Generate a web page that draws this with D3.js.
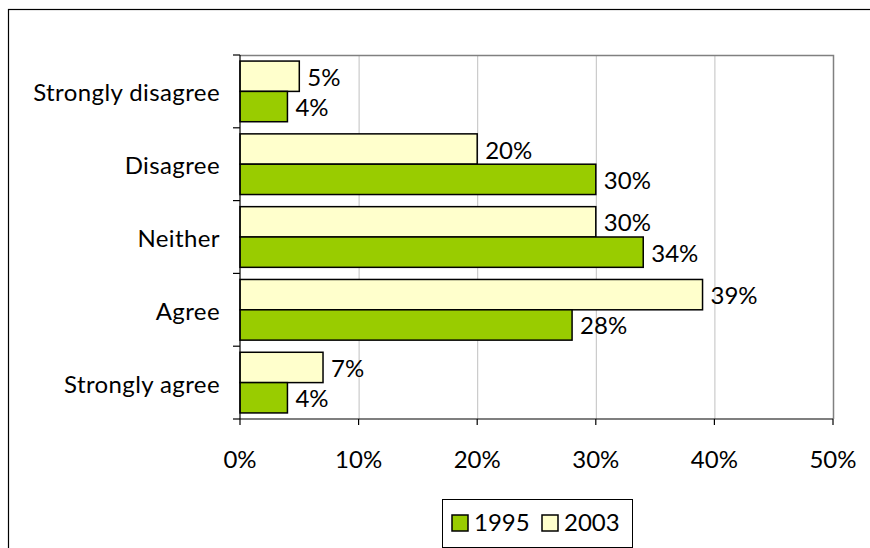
<!DOCTYPE html>
<html>
<head>
<meta charset="utf-8">
<script src="https://cdn.jsdelivr.net/npm/d3@7"></script>
<style>
  html, body { margin: 0; padding: 0; background: #fff; }
  svg { display: block; }
  text { font-family: Lato, "Open Sans", sans-serif; fill: #000; }
</style>
</head>
<body>
<svg id="chart" width="870" height="548"></svg>
<script>
// Survey responses, listed top to bottom as shown
const categories = ["Strongly disagree", "Disagree", "Neither", "Agree", "Strongly agree"];
const seriesNames = ["2003", "1995"];          // order within each band (top first)
const values1995 = [4, 30, 34, 28, 4];
const values2003 = [5, 20, 30, 39, 7];
const xTicks = [0, 10, 20, 30, 40, 50];
const legendOrder = ["1995", "2003"];

const colors = { "1995": "#99cc00", "2003": "#ffffcc" };
const seriesValues = { "1995": values1995, "2003": values2003 };
const fontSize = 24;

const svg = d3.select("#chart");

// outer chart frame
svg.append("rect")
  .attr("x", 8.5).attr("y", 9.5)
  .attr("width", 900).attr("height", 600)
  .attr("fill", "#fff").attr("stroke", "#000").attr("stroke-width", 1.2);

const plot = { left: 240, top: 55, right: 833, bottom: 419 };

const x = d3.scaleLinear().domain([0, 50]).range([plot.left, plot.right]);
const y = d3.scaleBand().domain(categories).range([plot.top, plot.bottom]);
const inner = d3.scaleBand().domain(seriesNames)
  .range([0, y.bandwidth()]).paddingOuter(0.2).paddingInner(0);

// vertical gridlines
svg.append("g").selectAll("line").data(xTicks.slice(1, -1)).join("line")
  .attr("x1", d => x(d) + 0.5).attr("x2", d => x(d) + 0.5)
  .attr("y1", plot.top).attr("y2", plot.bottom)
  .attr("stroke", "#c0c0c0").attr("stroke-width", 1);

// plot area frame (top / right)
svg.append("path")
  .attr("d", `M${plot.left},${plot.top + 0.5}H${plot.right + 0.5}V${plot.bottom}`)
  .attr("fill", "none").attr("stroke", "#808080").attr("stroke-width", 1.5);

// bars
const rows = [];
categories.forEach((c, i) => {
  seriesNames.forEach(s => rows.push({ cat: c, series: s, value: seriesValues[s][i] }));
});

svg.append("g").selectAll("rect").data(rows).join("rect")
  .attr("x", x(0))
  .attr("y", d => y(d.cat) + inner(d.series))
  .attr("width", d => x(d.value) - x(0))
  .attr("height", inner.bandwidth())
  .attr("fill", d => colors[d.series])
  .attr("stroke", "#000").attr("stroke-width", 1.5);

// value labels
svg.append("g").selectAll("text").data(rows).join("text")
  .attr("x", d => x(d.value) + 8)
  .attr("y", d => y(d.cat) + inner(d.series) + inner.bandwidth() / 2 + 9.5)
  .attr("font-size", fontSize)
  .text(d => d.value + "%");

// y axis
const yAxis = svg.append("g").attr("transform", `translate(${plot.left},0)`);
yAxis.append("line").attr("x1", 0).attr("x2", 0)
  .attr("y1", plot.top).attr("y2", plot.bottom)
  .attr("stroke", "#000").attr("stroke-width", 1.2);
const bounds = categories.map(c => y(c)).concat([plot.bottom]);
yAxis.selectAll("line.tick").data(bounds).join("line").attr("class", "tick")
  .attr("x1", -7).attr("x2", 0)
  .attr("y1", d => d).attr("y2", d => d)
  .attr("stroke", "#000").attr("stroke-width", 1.2);
yAxis.selectAll("text").data(categories).join("text")
  .attr("x", -20)
  .attr("y", d => y(d) + y.bandwidth() / 2 + 10)
  .attr("text-anchor", "end")
  .attr("font-size", fontSize)
  .attr("letter-spacing", 0.4)
  .text(d => d);

// x axis
const xAxis = svg.append("g").attr("transform", `translate(0,${plot.bottom})`);
xAxis.append("line").attr("x1", plot.left).attr("x2", plot.right)
  .attr("stroke", "#000").attr("stroke-width", 1.2);
xAxis.selectAll("line.tick").data(xTicks).join("line").attr("class", "tick")
  .attr("x1", d => x(d)).attr("x2", d => x(d))
  .attr("y1", 0).attr("y2", 6)
  .attr("stroke", "#000").attr("stroke-width", 1.2);
xAxis.selectAll("text").data(xTicks).join("text")
  .attr("x", d => x(d))
  .attr("y", 49)
  .attr("text-anchor", "middle")
  .attr("font-size", fontSize)
  .text(d => d + "%");

// legend
const legend = svg.append("g").attr("transform", "translate(442,499)");
legend.append("rect").attr("x", 0.5).attr("y", 0.5).attr("width", 190).attr("height", 48)
  .attr("fill", "#fff").attr("stroke", "#000").attr("stroke-width", 1);
const items = legend.selectAll("g.item").data(legendOrder).join("g").attr("class", "item")
  .attr("transform", (d, i) => `translate(${10 + i * 90},16)`);
items.append("rect").attr("width", 16).attr("height", 16)
  .attr("fill", d => colors[d]).attr("stroke", "#000").attr("stroke-width", 1.5);
items.append("text").attr("x", 22).attr("y", 16)
  .attr("font-size", fontSize).text(d => d);
</script>
</body>
</html>
